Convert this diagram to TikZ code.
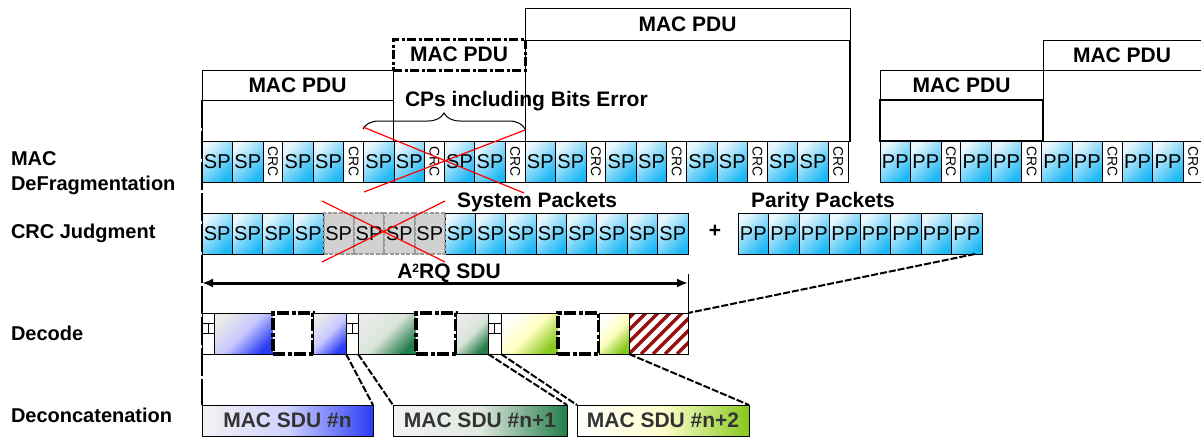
\documentclass[tikz,border=0pt]{standalone}
\usepackage{fontspec}
\setmainfont{Liberation Sans}
\usetikzlibrary{positioning, decorations.pathreplacing, arrows.meta}

\definecolor{spLight}{RGB}{235,247,253}
\definecolor{spDark}{RGB}{30,185,245}
\definecolor{sduBlue}{RGB}{40,60,245}
\definecolor{sduGreen}{RGB}{35,125,75}
\definecolor{sduLime}{RGB}{135,200,30}
\definecolor{hatchRed}{RGB}{150,15,15}
\newcommand{\crcv}{\rotatebox{-90}{CRC}}

\begin{document}
\begin{tikzpicture}[x=1pt, y=-1pt, node distance=0pt, inner sep=0pt, outer sep=0pt, line width=1pt,
    >={Latex[length=11pt,width=9pt]}]
      \tikzstyle{cell}=[draw, anchor=north west, minimum height=41pt, font=\fontsize{20}{20}\selectfont]
      \tikzstyle{spbox}=[cell, minimum width=30.5pt, top color=spLight, bottom color=spDark, shading angle=45]
      \tikzstyle{crcbox}=[cell, fill=white, minimum width=19.75pt, font=\fontsize{14}{14}\selectfont]
      \tikzstyle{lostbox}=[cell, minimum width=30.4pt, fill=black!18, draw=black!40, line width=2pt, dash pattern=on 4pt off 1.5pt]
      \tikzstyle{pdutitle}=[draw, anchor=north west, minimum height=30pt, font=\bfseries\fontsize{21}{21}\selectfont]
      \tikzstyle{pdubody}=[draw, anchor=north west]
      \tikzstyle{rowlabel}=[anchor=base west, align=left, font=\bfseries\fontsize{20}{25}\selectfont]
      \tikzstyle{tag}=[font=\bfseries\fontsize{21}{21}\selectfont]
      \tikzstyle{dbox}=[draw, minimum height=41pt]
      \tikzstyle{hdrbox}=[draw, fill=white, minimum width=12pt, minimum height=41pt]
      \tikzstyle{gapbox}=[draw, fill=white, minimum height=41pt, line width=3.5pt, dash pattern=on 12pt off 2.5pt on 4pt off 2.5pt]
      \tikzstyle{blueg}=[top color=black!8, bottom color=sduBlue, middle color=blue!22, shading angle=45]
      \tikzstyle{greeng}=[top color=black!8, bottom color=sduGreen, middle color=green!30!black!15, shading angle=45]
      \tikzstyle{limeg}=[top color=white, bottom color=sduLime, middle color=yellow!25, shading angle=45]
      \tikzstyle{sdubox}=[draw, anchor=north west, minimum height=31pt, text=black!80, font=\bfseries\fontsize{21}{21}\selectfont]
      \tikzstyle{link}=[line width=2pt, dash pattern=on 7pt off 2pt]

      \path[use as bounding box, fill=white] (0,0) rectangle (1201,437);

      % Row labels on the left.
      \node[rowlabel, anchor=north west] (labFrag) at (11,152) {MAC\\DeFragmentation};
      \node[rowlabel] (labCrc) at (11,238) {CRC Judgment};
      \node[rowlabel] (labDec) at (11,340) {Decode};
      \node[rowlabel] (labDecon) at (11,422) {Deconcatenation};

      % MAC PDU frames above the fragments.
      \node[pdutitle, minimum width=191pt] (pdu1) at (202,70) {MAC PDU};
      \node[pdubody, minimum width=191pt, minimum height=41pt] (pdu1b) at (202,100) {};
      \node[pdutitle, minimum width=132pt, minimum height=31pt, line width=3pt,
        dash pattern=on 9pt off 2.5pt on 3pt off 2.5pt] (pdu2) at (393,39) {MAC PDU};
      \node[pdutitle, minimum width=325pt, minimum height=32pt] (pdu3) at (525,8) {MAC PDU};
      \node[pdubody, minimum width=325pt, minimum height=101pt] (pdu3b) at (525,40) {};
      \draw[line width=2pt] (pdu3b.north east) -- (pdu3b.south east);
      \node[pdutitle, minimum width=163pt] (pdu4) at (880,70) {MAC PDU};
      \node[pdubody, minimum width=163pt, minimum height=41pt, line width=1.8pt] (pdu4b) at (880,100) {};
      \node[pdutitle, minimum width=158pt] (pdu5) at (1043,40) {MAC PDU};
      \node[pdubody, minimum width=158pt, minimum height=71pt] (pdu5b) at (1043,70) {};

      \node[tag, anchor=base west] (cpsErr) at (405,106) {CPs including Bits Error};
      \coordinate (brL) at (363,129);
      \coordinate (brR) at (525,129);
      \draw[decorate, decoration={brace, amplitude=16pt}] (brL) -- (brR);

      % MAC DeFragmentation: system and parity fragments.
      \foreach \g in {0,...,7} {
        \node[spbox] (ms\g-a) at (202+80.75*\g, 141) {SP};
        \node[spbox, right=of ms\g-a] (ms\g-b) {SP};
        \node[crcbox, right=of ms\g-b] (mc\g) {\crcv};
      }
      \foreach \g in {0,...,3} {
        \node[spbox] (mp\g-a) at (880+80.75*\g, 141) {PP};
        \node[spbox, right=of mp\g-a] (mp\g-b) {PP};
        \node[crcbox, right=of mp\g-b] (mpc\g) {\crcv};
      }
      \draw[red, line width=1.2pt] (363,127) -- (524,193) (525,130) -- (364,192);

      \node[tag, anchor=base] (sysPk) at (537,207) {System Packets};
      \node[tag, anchor=base] (parPk) at (823,207) {Parity Packets};

      % CRC Judgment.
      \foreach \i in {1,...,4,9,10,...,16}
        \node[spbox, minimum width=30.4pt] (cs\i) at (202+30.375*\i-30.375, 213) {SP};
      \foreach \i in {5,...,8}
        \node[lostbox] (cs\i) at (202+30.375*\i-30.375, 213) {SP};
      \draw[red, line width=1.2pt] (322,201) -- (445,262) (445,201) -- (322,262);
      \node[tag] (plus) at (715,231) {+};
      \foreach \i in {1,...,8}
        \node[spbox] (cp\i) at (738+30.5*\i-30.5, 213) {PP};

      \coordinate (arrL) at (202,283);
      \coordinate (arrR) at (688,283);
      \draw[<->, line width=3pt] (arrL) -- (arrR);
      \node[tag, anchor=base] (arqSdu) at (449,278) {A\raisebox{6pt}{\fontsize{12}{12}\selectfont 2}RQ SDU};

      % Decode.
      \node[hdrbox, anchor=north west] (h1) at (202,313) {};
      \node[dbox, blueg, minimum width=59pt, right=of h1] (b1) {};
      \node[gapbox, minimum width=40pt, right=of b1] (gap1) {};
      \node[dbox, blueg, minimum width=33pt, right=of gap1] (b2) {};
      \node[hdrbox, right=of b2] (h2) {};
      \node[dbox, greeng, minimum width=58pt, right=of h2] (g1) {};
      \node[gapbox, minimum width=40pt, right=of g1] (gap2) {};
      \node[dbox, greeng, minimum width=32pt, right=of gap2] (g2) {};
      \node[hdrbox, minimum width=13pt, right=of g2] (h3) {};
      \node[dbox, limeg, minimum width=57pt, right=of h3] (y1) {};
      \node[gapbox, minimum width=41pt, right=of y1] (gap3) {};
      \node[dbox, limeg, minimum width=30pt, right=of gap3] (y2) {};
      \node[dbox, fill=white, minimum width=59pt, right=of y2] (hatch) {};
      \begin{scope}
        \clip (hatch.south west) rectangle (hatch.north east);
        \foreach \s in {0,...,8}
          \draw[hatchRed, line width=3.5pt] (hatch.south west) ++(12*\s-36,0) -- ++(45,-45);
      \end{scope}
      \draw (hatch.south west) rectangle (hatch.north east);
      \foreach \h in {h1,h2,h3} {
        \draw ([yshift=-10pt]\h.north west) -- ([yshift=-10pt]\h.north east);
        \draw ([yshift=-20pt]\h.north west) -- ([yshift=-20pt]\h.north east);
        \draw ([yshift=-10pt]\h.north) -- ([yshift=-20pt]\h.north);
      }
      \draw (arrR) ++(0,-9) -- (hatch.north east);

      % Deconcatenation.
      \node[sdubox, minimum width=171pt, left color=black!5, right color=sduBlue, middle color=blue!18] (sdu1) at (202,405) {MAC SDU \#n};
      \node[sdubox, minimum width=174pt, left color=black!5, right color=sduGreen, middle color=green!25!black!12] (sdu2) at (393,405) {MAC SDU \#n+1};
      \node[sdubox, minimum width=172pt, left color=white, right color=sduLime, middle color=yellow!20] (sdu3) at (577,405) {MAC SDU \#n+2};

      % Connectors between the rows.
      \draw[line width=2pt, dash pattern=on 28pt off 3pt] (pdu1.south west) -- (sdu1.north west);
      \draw[link] ([xshift=-7pt]cp8.south east) -- (hatch.north east);
      \draw[link] (h2.south west) -- (sdu1.north east);
      \draw[link] (h2.south east) -- (sdu2.north west);
      \draw[link] (h3.south west) -- (sdu2.north east);
      \draw[link] (h3.south east) -- (sdu3.north west);
      \draw[link] (hatch.south west) -- (sdu3.north east);
\end{tikzpicture}
\end{document}
